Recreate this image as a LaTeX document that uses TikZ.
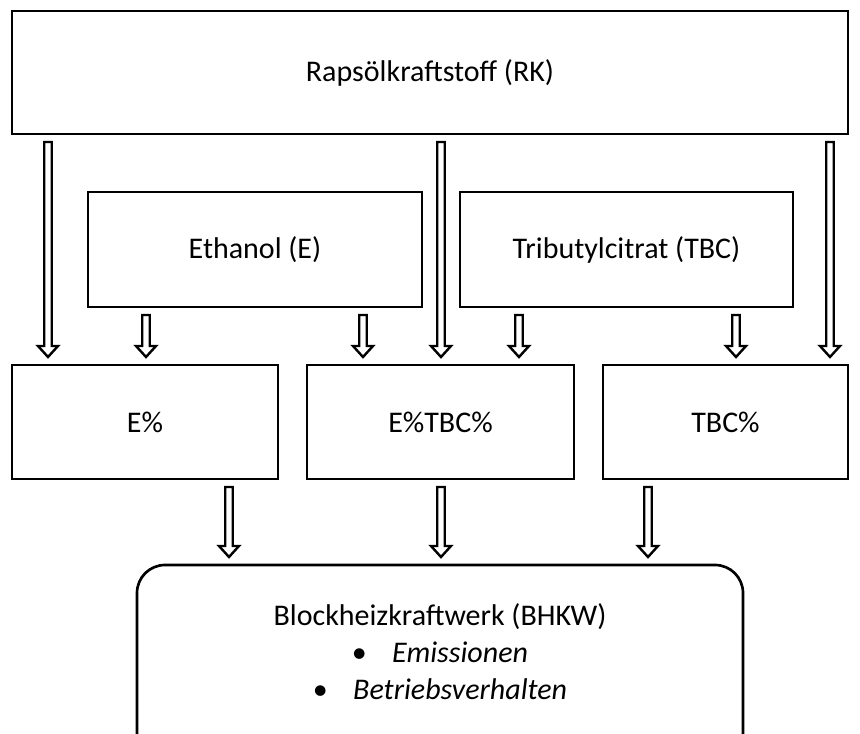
\documentclass[tikz,border=0pt]{standalone}
\usepackage{fontspec}
\setmainfont{Carlito}
\usetikzlibrary{calc}

\tikzset{
  box/.style={draw, line width=2pt, inner sep=0pt, outer sep=0pt,
    font=\fontsize{22.5}{27}\selectfont},
  hollow/.style={line width=1.8pt, line join=miter, to path={
      let \p1=(\tikztostart), \p2=(\tikztotarget) in
      (\x1-2.8pt,\y1-6pt) -- (\x1-2.8pt,\y2+14.25pt) -- (\x1-7.5pt,\y2+14.25pt)
      -- (\x1,\y2+6pt) -- (\x1+7.5pt,\y2+14.25pt) -- (\x1+2.8pt,\y2+14.25pt)
      -- (\x1+2.8pt,\y1-6pt) -- cycle}}
}

\begin{document}
\begin{tikzpicture}[x=0.75pt,y=-0.75pt]
  \path[use as bounding box, clip] (0,0) rectangle (860,734);

  % fuel and additives
  \node[box, minimum width=627pt, minimum height=92.25pt] (rk) at (430,72.5) {Rapsölkraftstoff (RK)};
  \node[box, minimum width=250.5pt, minimum height=86.25pt] (e) at (255,249.5) {Ethanol (E)};
  \node[box, minimum width=249.75pt, minimum height=86.25pt] (tbc) at (626.5,249.5) {Tributylcitrat (TBC)};

  % blends
  \node[box, minimum width=199.5pt, minimum height=85.5pt] (ep) at (145,422) {E\%};
  \node[box, minimum width=200.25pt, minimum height=85.5pt] (etbc) at (440.5,422) {E\%TBC\%};
  \node[box, minimum width=183.75pt, minimum height=85.5pt] (tbcp) at (725.5,422) {TBC\%};

  % engine (cut off at the bottom)
  \node[box, rounded corners=21pt, minimum width=454.5pt, minimum height=165.75pt, align=center,
    font=\fontsize{22.5}{27.75}\selectfont] (bhkw) at (440,675.5)
    {Blockheizkraftwerk (BHKW)\\
     \textbullet\hspace{19pt}\textit{Emissionen}\\
     \textbullet\hspace{19pt}\textit{Betriebsverhalten}\\
     \strut};

  \draw[hollow] (rk.south -| 48,0) to (ep.north);
  \draw[hollow] (rk.south -| 441,0) to (etbc.north);
  \draw[hollow] (rk.south -| 830,0) to (tbcp.north);
  \draw[hollow] (e.south -| 146,0) to (ep.north);
  \draw[hollow] (e.south -| 363,0) to (etbc.north);
  \draw[hollow] (tbc.south -| 519,0) to (etbc.north);
  \draw[hollow] (tbc.south -| 736,0) to (tbcp.north);
  \draw[hollow] (ep.south -| 229,0) to (bhkw.north);
  \draw[hollow] (etbc.south -| 441,0) to (bhkw.north);
  \draw[hollow] (tbcp.south -| 648,0) to (bhkw.north);
\end{tikzpicture}
\end{document}
